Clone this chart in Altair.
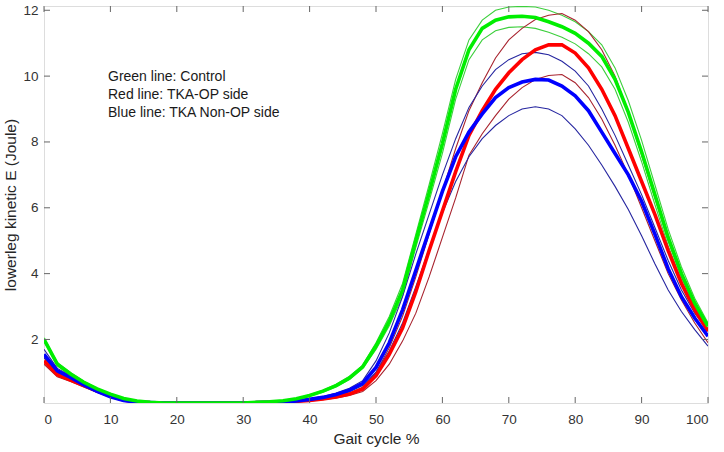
import altair as alt
import pandas as pd

# Gait cycle % (sampled every 2 %)
gait = list(range(0, 101, 2))

flat7 = [0.07] * 7  # 18..30 %

green_mean = [2.0, 1.25, 0.95, 0.7, 0.5, 0.34, 0.21, 0.13, 0.09] + flat7 + [
    0.09, 0.11, 0.14, 0.2, 0.3, 0.43, 0.6, 0.83, 1.17, 1.8, 2.55, 3.5, 5.0, 6.45, 7.95,
    9.6, 10.8, 11.45, 11.7, 11.8, 11.82, 11.78, 11.65, 11.5, 11.3, 11.0, 10.6, 9.9, 8.9,
    7.7, 6.4, 5.1, 4.0, 3.1, 2.4]
green_upper = [2.05, 1.3, 1.0, 0.73, 0.52, 0.36, 0.22, 0.14, 0.1] + [0.08] * 7 + [
    0.1, 0.12, 0.15, 0.21, 0.32, 0.46, 0.64, 0.88, 1.22, 1.9, 2.7, 3.7, 5.2, 6.7, 8.25,
    9.9, 11.1, 11.7, 12.0, 12.1, 12.12, 12.1, 12.0, 11.85, 11.65, 11.35, 10.95, 10.25, 9.25,
    8.05, 6.7, 5.35, 4.2, 3.25, 2.5]
green_lower = [1.95, 1.2, 0.9, 0.67, 0.48, 0.32, 0.2, 0.12, 0.08] + flat7 + [
    0.08, 0.1, 0.13, 0.19, 0.28, 0.4, 0.56, 0.78, 1.12, 1.7, 2.42, 3.32, 4.8, 6.2, 7.65,
    9.3, 10.5, 11.1, 11.38, 11.48, 11.5, 11.45, 11.33, 11.18, 10.98, 10.68, 10.28, 9.6, 8.6,
    7.4, 6.1, 4.85, 3.8, 2.95, 2.3]

red_mean = [1.35, 0.93, 0.77, 0.6, 0.43, 0.28, 0.16, 0.1, 0.08] + flat7 + [
    0.08, 0.09, 0.1, 0.12, 0.15, 0.19, 0.25, 0.34, 0.5, 0.9, 1.55, 2.35, 3.45, 4.7, 5.9,
    7.1, 8.2, 8.95, 9.6, 10.1, 10.5, 10.8, 10.95, 10.95, 10.7, 10.25, 9.6, 8.8, 7.8,
    6.8, 5.8, 4.7, 3.7, 2.9, 2.25]
red_upper = [1.45, 1.0, 0.82, 0.63, 0.45, 0.3, 0.17, 0.11, 0.08] + flat7 + [
    0.08, 0.09, 0.11, 0.13, 0.16, 0.21, 0.27, 0.37, 0.55, 1.0, 1.75, 2.7, 3.9, 5.2, 6.5,
    7.8, 8.95, 9.8, 10.55, 11.1, 11.45, 11.72, 11.85, 11.9, 11.7, 11.35, 10.8, 10.0, 8.9,
    7.6, 6.3, 5.0, 3.9, 3.0, 2.3]
red_lower = [1.25, 0.87, 0.72, 0.56, 0.4, 0.26, 0.15, 0.09, 0.07] + flat7 + [
    0.07, 0.08, 0.09, 0.11, 0.13, 0.17, 0.22, 0.3, 0.42, 0.75, 1.25, 1.95, 2.8, 3.9, 5.1,
    6.3, 7.6, 8.25, 8.8, 9.3, 9.65, 9.9, 10.02, 10.05, 9.8, 9.35, 8.7, 7.9, 7.0,
    6.0, 5.0, 4.0, 3.2, 2.5, 1.9]

blue_mean = [1.55, 1.05, 0.85, 0.62, 0.42, 0.26, 0.15, 0.09, 0.08] + flat7 + [
    0.08, 0.09, 0.1, 0.13, 0.18, 0.24, 0.33, 0.46, 0.67, 1.15, 1.9, 2.9, 4.1, 5.3, 6.5,
    7.55, 8.3, 8.85, 9.35, 9.65, 9.82, 9.9, 9.88, 9.7, 9.4, 8.95, 8.3, 7.65, 7.0,
    6.2, 5.2, 4.15, 3.3, 2.65, 2.1]
blue_upper = [1.7, 1.12, 0.9, 0.65, 0.45, 0.28, 0.16, 0.1, 0.08] + flat7 + [
    0.08, 0.09, 0.11, 0.14, 0.2, 0.27, 0.37, 0.52, 0.75, 1.35, 2.2, 3.3, 4.6, 5.8, 7.0,
    8.1, 9.05, 9.7, 10.2, 10.5, 10.68, 10.72, 10.65, 10.45, 10.15, 9.7, 9.0, 8.2, 7.3,
    6.4, 5.4, 4.4, 3.5, 2.8, 2.25]
blue_lower = [1.45, 0.98, 0.8, 0.58, 0.4, 0.25, 0.14, 0.09, 0.07] + flat7 + [
    0.07, 0.08, 0.09, 0.12, 0.16, 0.21, 0.29, 0.41, 0.6, 1.0, 1.65, 2.5, 3.6, 4.75, 5.85,
    6.8, 7.55, 8.1, 8.5, 8.8, 9.0, 9.07, 9.0, 8.8, 8.4, 7.9, 7.3, 6.65, 5.95,
    5.15, 4.3, 3.5, 2.85, 2.3, 1.8]

x_ticks = [0, 10, 20, 30, 40, 50, 60, 70, 80, 90, 100]
y_ticks = [2, 4, 6, 8, 10, 12]
notes = ["Green line: Control", "Red line: TKA-OP side", "Blue line: TKA Non-OP side"]

W, H = 664, 397
X_DOM = [0, 100]
Y_DOM = [0.07, 12.13]

thin = {
    "green_upper": green_upper, "green_lower": green_lower,
    "red_upper": red_upper, "red_lower": red_lower,
    "blue_upper": blue_upper, "blue_lower": blue_lower,
}
thick = {"red_mean": red_mean, "blue_mean": blue_mean, "green_mean": green_mean}

def long_df(d):
    rows = []
    for name, vals in d.items():
        for xv, yv in zip(gait, vals):
            rows.append({"series": name, "x": xv, "y": yv})
    return pd.DataFrame(rows)

xs = alt.Scale(domain=X_DOM, nice=False, zero=False)
ys = alt.Scale(domain=Y_DOM, nice=False, zero=False)

color_scale = alt.Scale(
    domain=["green_upper", "green_lower", "red_upper", "red_lower", "blue_upper", "blue_lower",
            "red_mean", "blue_mean", "green_mean"],
    range=["#3ccf3c", "#3ccf3c", "#a8232e", "#a8232e", "#2626a0", "#2626a0",
           "#ff0000", "#0000ff", "#00ee00"],
)

base_x = alt.X("x:Q", scale=xs, axis=alt.Axis(
    values=x_ticks, title="Gait cycle %", ticks=False, domain=False, grid=False,
    labelFontSize=13.5, titleFontSize=15.5, labelPadding=9, titlePadding=6,
    labelColor="#333", titleColor="#262626", labelFont="Liberation Sans",
    titleFont="Liberation Sans", titleFontWeight="normal"))
base_y = alt.Y("y:Q", scale=ys, axis=alt.Axis(
    values=y_ticks, title="lowerleg kinetic E (Joule)", ticks=False, domain=False, grid=False,
    labelFontSize=13.5, titleFontSize=15.5, labelPadding=6, titlePadding=4,
    labelColor="#333", titleColor="#262626", labelFont="Liberation Sans",
    titleFont="Liberation Sans", titleFontWeight="normal"))

thin_layer = alt.Chart(long_df(thin)).mark_line(strokeWidth=1.1, clip=True).encode(
    x=base_x, y=base_y,
    color=alt.Color("series:N", scale=color_scale, legend=None),
    detail="series:N",
)
thick_layers = [
    alt.Chart(long_df({k: v})).mark_line(strokeWidth=3.6, clip=True).encode(
        x=alt.X("x:Q", scale=xs), y=alt.Y("y:Q", scale=ys),
        color=alt.Color("series:N", scale=color_scale, legend=None),
    )
    for k, v in thick.items()
]

tick_color = "#666"
xt = pd.DataFrame({"x": x_ticks})
yt = pd.DataFrame({"y": y_ticks})
x_ticks_bottom = alt.Chart(xt).mark_rule(color=tick_color, strokeWidth=1).encode(
    x=alt.X("x:Q", scale=xs), y=alt.value(H), y2=alt.value(H - 6))
x_ticks_top = alt.Chart(xt).mark_rule(color=tick_color, strokeWidth=1).encode(
    x=alt.X("x:Q", scale=xs), y=alt.value(0), y2=alt.value(6))
y_ticks_left = alt.Chart(yt).mark_rule(color=tick_color, strokeWidth=1).encode(
    y=alt.Y("y:Q", scale=ys), x=alt.value(0), x2=alt.value(6))
y_ticks_right = alt.Chart(yt).mark_rule(color=tick_color, strokeWidth=1).encode(
    y=alt.Y("y:Q", scale=ys), x=alt.value(W), x2=alt.value(W - 6))

note_layers = [
    alt.Chart(pd.DataFrame({"t": [txt]})).mark_text(
        align="left", baseline="middle", fontSize=14, font="Liberation Sans", color="#1a1a1a"
    ).encode(text="t:N", x=alt.value(64), y=alt.value(70.5 + 18 * i))
    for i, txt in enumerate(notes)
]

chart = alt.layer(
    thin_layer, *thick_layers,
    x_ticks_bottom, x_ticks_top, y_ticks_left, y_ticks_right,
    *note_layers,
).properties(
    width=W, height=H,
    autosize=alt.AutoSizeParams(type="none"),
    padding={"left": 44, "top": 6, "right": 16, "bottom": 49},
).configure_view(
    stroke="#666", strokeWidth=1,
).configure(background="white")

chart.save("out.html", embed_options={"renderer": "svg", "actions": False})
